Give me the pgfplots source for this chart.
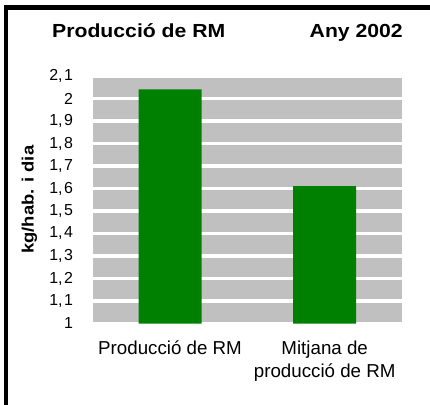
\documentclass[border=0pt]{standalone}
\usepackage{pgfplots}
\pgfplotsset{compat=1.18}
\usepackage{fontspec}
\setmainfont{Liberation Sans}
\newfontfamily\widefont[FakeStretch=1.12]{Liberation Sans}
\definecolor{bargreen}{HTML}{008000}
\definecolor{bggray}{HTML}{C0C0C0}
\begin{document}
\begin{tikzpicture}[x=1bp,y=1bp]
\useasboundingbox (0,0) rectangle (430,405);
\draw[line width=4.5bp] (5.8,-20) -- (5.8,397.5) -- (450,397.5);
\begin{axis}[
  at={(92.7bp,81.5bp)}, anchor=south west,
  scale only axis, width=309.3bp, height=247.5bp,
  xmin=-0.5, xmax=1.5, ymin=1, ymax=2.1,
  axis line style={draw=none},
  axis background/.style={fill=bggray},
  ymajorgrids, grid style={white, line width=3.5bp},
  major tick length=0pt,
  ytick={1,1.1,1.2,1.3,1.4,1.5,1.6,1.7,1.8,1.9,2,2.1},
  /pgf/number format/assume math mode=true,
  /pgf/number format/set decimal separator={,\kern1.5bp},
  /pgf/number format/fixed,
  /pgf/number format/precision=1,
  yticklabel style={anchor=east, inner sep=0pt, xshift=-19.5bp, font=\fontsize{16}{16}\selectfont},
  xtick={0,1},
  xticklabels={Producció de RM, {Mitjana de\\producció de RM}},
  xticklabel style={align=center, anchor=north, inner sep=0pt, yshift=-17bp, font=\fontsize{18.8}{23.5}\selectfont},
  ylabel={kg/hab. i dia},
  ylabel style={font=\widefont\bfseries\fontsize{16.5}{17}\selectfont, at={(axis description cs:-0.2047,0.5)}, anchor=center},
]
\addplot[ybar, bar width=63bp, fill=bargreen, draw=none] coordinates {(0,2.04) (1,1.61)};
\end{axis}
\node[anchor=base west, inner sep=0pt, font=\widefont\bfseries\fontsize{19}{20}\selectfont] at (52,367.3) {Producció de RM};
\node[anchor=base east, inner sep=0pt, font=\widefont\bfseries\fontsize{19}{20}\selectfont] at (403,367.3) {Any 2002};
\end{tikzpicture}
\end{document}
